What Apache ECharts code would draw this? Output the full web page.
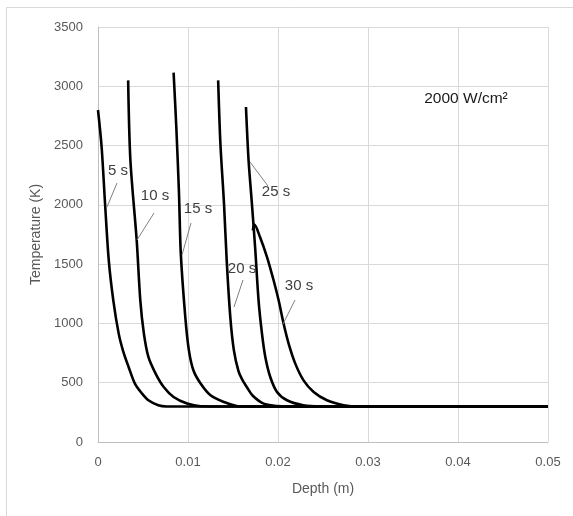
<!DOCTYPE html>
<html>
<head>
<meta charset="utf-8">
<script src="https://cdn.jsdelivr.net/npm/echarts@6/dist/echarts.min.js"></script>
<style>html,body{margin:0;padding:0;background:#fff;}#c{width:573px;height:516px;}</style>
</head>
<body>
<div id="c"></div>
<script>
// Depth (m), Temperature (K) pairs for each heating time
const seriesNames = ['5 s', '10 s', '15 s', '20 s', '25 s', '30 s'];
const s5 = [[0,2800],[0.0004,2490],[0.0008,1990],[0.0012,1530],[0.0017,1195],[0.0023,914],[0.0028,765],[0.0034,633],[0.0041,493],[0.0049,408],[0.0056,352],[0.0067,310],[0.0076,300],[0.05,300]];
const s10 = [[0.00335,3050],[0.0036,2376],[0.0043,1700],[0.0047,1195],[0.0051,914],[0.0056,717],[0.0064,577],[0.0073,464],[0.0084,380],[0.0099,324],[0.0114,301],[0.0125,300],[0.05,300]];
const s15 = [[0.0084,3115],[0.0087,2657],[0.009,2095],[0.0092,1589],[0.0097,1054],[0.0101,773],[0.0106,605],[0.0114,493],[0.0125,394],[0.014,337],[0.0154,304],[0.0165,300],[0.05,300]];
const s20 = [[0.01335,3050],[0.0136,2517],[0.014,2011],[0.0143,1532],[0.0147,1054],[0.0151,773],[0.0156,600],[0.016,530],[0.0166,455],[0.0172,390],[0.0184,324],[0.0199,304],[0.021,300],[0.05,300]];
const s25 = [[0.01644,2825],[0.01673,2376],[0.0171,2011],[0.01748,1617],[0.01784,1195],[0.01822,914],[0.01859,717],[0.01914,548],[0.01989,422],[0.021,352],[0.0228,310],[0.0247,300],[0.05,300]];
const s30 = [[0.0172,1785],[0.01738,1833],[0.018,1729],[0.01878,1560],[0.01951,1364],[0.02007,1195],[0.02062,999],[0.02118,830],[0.02192,661],[0.02284,520],[0.02396,422],[0.02544,352],[0.02729,310],[0.0285,300],[0.05,300]];
const allSeries = [s5, s10, s15, s20, s25, s30];
const xTicks = [0, 0.01, 0.02, 0.03, 0.04, 0.05];
const yTicks = [0, 500, 1000, 1500, 2000, 2500, 3000, 3500];

const chart = echarts.init(document.getElementById('c'), null, {renderer: 'canvas'});
const font = '"Liberation Sans", Arial, sans-serif';
const labelColor = '#404040';
const leader = '#808080';

function txt(x, y, s, size, color) {
  return {type: 'text', x: x, y: y, style: {text: s, fill: color || labelColor, font: (size || 15) + 'px ' + font, align: 'center', verticalAlign: 'middle'}, z: 10};
}
function ln(x1, y1, x2, y2) {
  return {type: 'line', shape: {x1: x1, y1: y1, x2: x2, y2: y2}, style: {stroke: leader, lineWidth: 1}, z: 10};
}

chart.setOption({
  animation: false,
  backgroundColor: '#fff',
  grid: {left: 98, right: 25, top: 27, bottom: 74},
  xAxis: {
    type: 'value', min: xTicks[0], max: xTicks[xTicks.length - 1], interval: 0.01,
    name: 'Depth (m)', nameLocation: 'middle', nameGap: 40,
    nameTextStyle: {color: '#595959', fontSize: 14, fontFamily: font},
    axisLine: {show: true, lineStyle: {color: '#bfbfbf', width: 1}},
    axisTick: {show: false},
    axisLabel: {color: '#595959', fontSize: 13, fontFamily: font, margin: 14, formatter: v => String(v)},
    splitLine: {show: true, lineStyle: {color: '#d9d9d9', width: 1}}
  },
  yAxis: {
    type: 'value', min: yTicks[0], max: yTicks[yTicks.length - 1], interval: 500,
    name: 'Temperature (K)', nameLocation: 'middle', nameGap: 53, nameRotate: 90,
    nameTextStyle: {color: '#595959', fontSize: 14, fontFamily: font},
    axisLine: {show: true, lineStyle: {color: '#bfbfbf', width: 1}},
    axisTick: {show: false},
    axisLabel: {color: '#595959', fontSize: 13, fontFamily: font, margin: 15, formatter: v => String(v)},
    splitLine: {show: true, lineStyle: {color: '#d9d9d9', width: 1}}
  },
  series: allSeries.map((d, i) => ({
    name: seriesNames[i], type: 'line', data: d, showSymbol: false, symbol: 'none',
    smooth: 0.3, lineStyle: {color: '#000', width: 2.6}, z: 5
  })),
  graphic: [
    {type: 'rect', shape: {x: 6.5, y: 7.5, width: 600, height: 600}, style: {fill: 'none', stroke: '#d9d9d9', lineWidth: 1}, z: 0, silent: true},
    txt(118, 171, '5 s'), ln(117, 183, 107, 207),
    txt(155, 196, '10 s'), ln(154, 213, 137, 240),
    txt(198, 209, '15 s'), ln(191, 223, 182, 255),
    txt(242, 269, '20 s'), ln(243, 280, 234, 307),
    txt(276, 192, '25 s'), ln(268, 186, 250, 162),
    txt(299, 286, '30 s'), ln(295, 300, 283, 324),
    txt(466, 99, '2000 W/cm²', 15.5, '#1a1a1a')
  ]
});
</script>
</body>
</html>
